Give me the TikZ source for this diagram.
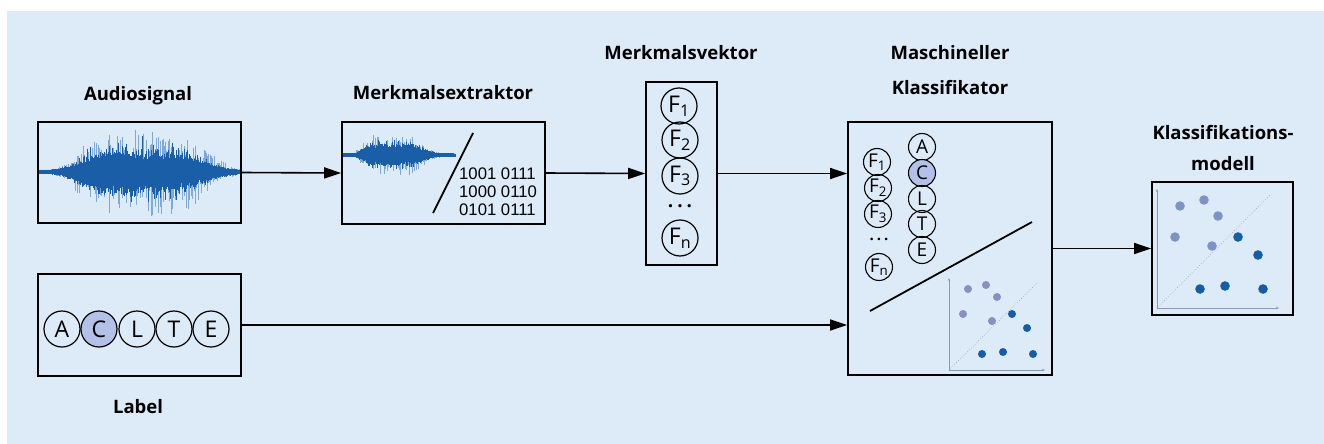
\documentclass[tikz,border=0pt]{standalone}
\usepackage{fontspec}
\setmainfont{Open Sans}
\newfontfamily\arialf{Liberation Sans}
\usetikzlibrary{arrows.meta}
\definecolor{bgc}{HTML}{DDEAF7}
\definecolor{wavedark}{HTML}{1A5EA8}
\definecolor{wavelight}{HTML}{7FA9D8}
\definecolor{cfill}{HTML}{B3C0E8}
\definecolor{dotlight}{HTML}{7D93C6}
\definecolor{dotdark}{HTML}{175CA6}
\definecolor{dotpurple}{HTML}{8A8FC0}
\definecolor{axisc}{HTML}{8C9AAE}
\newcommand{\Fsub}[1]{F\textsubscript{#1}}
\tikzset{
  box/.style={draw, line width=1.8pt, inner sep=0pt, rectangle},
  title/.style={font=\fontsize{18.5}{20}\selectfont\bfseries, align=center, inner sep=0pt},
  arr/.style={line width=1.6pt, -{Triangle[length=17pt,width=11pt]}},
  bigc/.style={circle, draw, line width=1.2pt, minimum size=36pt, inner sep=0pt, font=\fontsize{23}{23}\selectfont},
  smallc/.style={circle, draw, line width=1.1pt, minimum size=27pt, inner sep=0pt, font=\fontsize{19}{19}\selectfont},
  ax/.style={axisc, line width=0.6pt, -{Stealth[length=3pt,width=2.5pt]}},
  diag/.style={axisc, line width=0.6pt, dotted},
}
\begin{document}
\begin{tikzpicture}[x=1pt,y=-1pt]
\useasboundingbox (0,0) rectangle (1324,444);
\fill[bgc] (7,11) rectangle (1324,444);

% boxes
\node[box, minimum width=203pt, minimum height=101pt] (audio) at (139.5,172.5) {};
\node[box, minimum width=203pt, minimum height=102pt] (extr) at (443.5,173) {};
\node[box, minimum width=71pt, minimum height=183pt] (vek) at (681.5,173.5) {};
\node[box, minimum width=204pt, minimum height=253pt] (cls) at (950,248.5) {};
\node[box, minimum width=141pt, minimum height=133pt] (model) at (1222.5,248.5) {};
\node[box, minimum width=203pt, minimum height=102pt] (label) at (139.5,325) {};

% titles
\node[title] (tAudio) at (138,96) {Audiosignal};
\node[title] (tExtr) at (443,93) {Merkmalsextraktor};
\node[title] (tVek) at (681,53) {Merkmalsvektor};
\node[title, font=\fontsize{18.5}{35}\selectfont\bfseries] (tCls) at (950,70) {Maschineller\\Klassifikator};
\node[title, font=\fontsize{18.5}{31}\selectfont\bfseries] (tModel) at (1223,148.5) {Klassifikations-\\modell};
\node[title] (tLabel) at (138,407) {Label};

% waveform in audio box
\pgfmathsetseed{11}
\begin{scope}
\clip (audio.south west) rectangle (audio.north east);
\foreach \i in {0,...,500} {
  \pgfmathsetmacro\xx{39+\i*0.4}
  \pgfmathsetmacro\w{ifthenelse(\xx<135,62,78)}
  \pgfmathsetmacro\t{(\xx-135)/\w}
  \pgfmathsetmacro\env{exp(-\t*\t*\t*\t)}
  \pgfmathsetmacro\up{1.5+\env*46*rnd*rnd}
  \pgfmathsetmacro\dn{1.5+\env*46*rnd*rnd}
  \draw[wavelight, line width=0.4pt] (\xx,{172-\up}) -- (\xx,{172+\dn});
}
\foreach \i in {0,...,500} {
  \pgfmathsetmacro\xx{39+\i*0.4}
  \pgfmathsetmacro\w{ifthenelse(\xx<135,60,75)}
  \pgfmathsetmacro\t{(\xx-135)/\w}
  \pgfmathsetmacro\env{exp(-\t*\t*\t*\t)}
  \pgfmathsetmacro\up{2+\env*(8+9*rnd)+\env*22*rnd*rnd*rnd}
  \pgfmathsetmacro\dn{2+\env*(8+9*rnd)+\env*22*rnd*rnd*rnd}
  \draw[wavedark, line width=0.5pt] (\xx,{172-\up}) -- (\xx,{172+\dn});
}
\end{scope}

% small waveform in extractor
\foreach \i in {0,...,280} {
  \pgfmathsetmacro\xx{343+\i*0.4}
  \pgfmathsetmacro\w{ifthenelse(\xx<388,28,40)}
  \pgfmathsetmacro\t{(\xx-388)/\w}
  \pgfmathsetmacro\env{exp(-\t*\t*\t*\t)}
  \pgfmathsetmacro\up{1.2+\env*22*rnd*rnd}
  \pgfmathsetmacro\dn{1.2+\env*22*rnd*rnd}
  \draw[wavelight, line width=0.4pt] (\xx,{155-\up}) -- (\xx,{155+\dn});
}
\foreach \i in {0,...,280} {
  \pgfmathsetmacro\xx{343+\i*0.4}
  \pgfmathsetmacro\w{ifthenelse(\xx<388,27,38)}
  \pgfmathsetmacro\t{(\xx-388)/\w}
  \pgfmathsetmacro\env{exp(-\t*\t*\t*\t)}
  \pgfmathsetmacro\up{1.5+\env*(4+5*rnd)+\env*10*rnd*rnd*rnd}
  \pgfmathsetmacro\dn{1.5+\env*(4+5*rnd)+\env*10*rnd*rnd*rnd}
  \draw[wavedark, line width=0.45pt] (\xx,{155-\up}) -- (\xx,{155+\dn});
}
\draw[line width=1.8pt] (473,133) -- (433,213);
\node[font=\arialf\fontsize{16.7}{18}\selectfont, align=left, anchor=west, inner sep=0pt] (bits) at (459,192) {1001 0111\\1000 0110\\0101 0111};

% Merkmalsvektor circles
\node[bigc] (f1) at (679,106) {\Fsub{1}};
\node[bigc] (f2) at (680,140) {\Fsub{2}};
\node[bigc] (f3) at (680,176) {\Fsub{3}};
\node[font=\fontsize{19}{19}\selectfont\bfseries, inner sep=0pt] (fdots) at (680,206) {.\hspace{4pt}.\hspace{4pt}.};
\node[bigc] (fn) at (680,238) {\Fsub{n}};

% classifier content
\node[smallc] (cf1) at (877,162) {\Fsub{1}};
\node[smallc] (cf2) at (878,188) {\Fsub{2}};
\node[smallc] (cf3) at (878,214) {\Fsub{3}};
\node[font=\fontsize{15}{15}\selectfont\bfseries, inner sep=0pt] (cfdots) at (879,239) {.\hspace{3pt}.\hspace{3pt}.};
\node[smallc] (cfn) at (879,267) {\Fsub{n}};
\node[smallc] (ca) at (922,147) {A};
\node[smallc, fill=cfill] (cc) at (922,173) {C};
\node[smallc] (cl) at (922,199) {L};
\node[smallc] (ct) at (922,224) {T};
\node[smallc] (ce) at (922,250) {E};
\draw[line width=1.8pt] (870,311) -- (1032,222);
\coordinate (co) at (949,370);
\draw[ax] (co) -- (949,278);
\draw[ax] (co) -- (1045,370);
\draw[diag] (co) -- (1038,282);
\foreach \p in {(968,289),(986,285),(997,297),(963,314),(992,321)} \fill[dotpurple] \p circle (4pt);
\foreach \p in {(1012,314),(1027,328),(982,354),(1003,352),(1033,354)} \fill[dotdark] \p circle (4pt);

% model content
\coordinate (mo) at (1157,308);
\draw[ax] (mo) -- (1157,189);
\draw[ax] (mo) -- (1279,308);
\draw[diag] (mo) -- (1271,194);
\foreach \p in {(1180,206),(1204,200),(1218,216),(1175,237),(1212,246)} \fill[dotlight] \p circle (4.8pt);
\foreach \p in {(1238,237),(1258,255),(1200,289),(1225,286),(1263,289)} \fill[dotdark] \p circle (4.8pt);

% label circles
\node[bigc] (la) at (62,329) {A};
\node[bigc, fill=cfill] (lc) at (99,329) {C};
\node[bigc] (ll) at (137,329) {L};
\node[bigc] (lt) at (174,329) {T};
\node[bigc] (le) at (211,329) {E};

% connectors
\draw[arr] (audio.east) -- (extr.west);
\draw[arr] (extr.east) -- (vek.west);
\draw[arr] (vek.east) -- (vek.east -| cls.west);
\draw[arr] (label.east) -- (label.east -| cls.west);
\draw[arr] (cls.east) -- (model.west);
\end{tikzpicture}
\end{document}
